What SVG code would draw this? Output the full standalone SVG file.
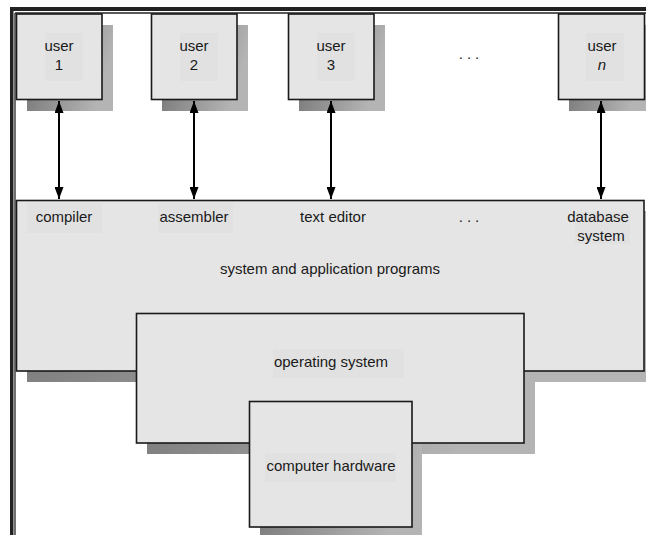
<svg xmlns="http://www.w3.org/2000/svg" width="646" height="535" viewBox="0 0 646 535">
<style>
.box{fill:#e5e5e5;stroke:#1a1a1a;stroke-width:1.6}
.sh{fill:url(#shg)}
.lbl{fill:#e1e1e1}
text{font-family:"Liberation Sans",Arial,sans-serif;font-size:15px;fill:#1a1a1a;text-anchor:middle}
.conn{stroke:#000;stroke-width:2;marker-start:url(#ah);marker-end:url(#ah)}
</style>
<defs>
<linearGradient id="shg" x1="0" y1="0" x2="1" y2="0.3">
<stop offset="0" stop-color="#6e6e6e"/>
<stop offset="1" stop-color="#b4b4b4"/>
</linearGradient>
<marker id="ah" viewBox="0 0 12 9" refX="12" refY="4.5" markerWidth="6" markerHeight="4.5" orient="auto-start-reverse" markerUnits="strokeWidth">
<path d="M0,0 L12,4.5 L0,9 z" fill="#000"/>
</marker>
</defs>
<rect width="646" height="535" fill="#fff"/>
<!-- frame -->
<rect x="10" y="7" width="636" height="4" fill="#222"/>
<rect x="10" y="7" width="3.5" height="528" fill="#222"/>
<line x1="15" y1="13" x2="646" y2="13" stroke="#222" stroke-width="1.3"/>
<line x1="15" y1="13" x2="15" y2="535" stroke="#222" stroke-width="1.3"/>
<!-- shadows -->
<rect class="sh" x="27" y="211" width="619" height="171"/>
<rect class="sh" x="147" y="324" width="388" height="130"/>
<rect class="sh" x="260" y="412" width="162" height="123"/>
<rect class="sh" x="27" y="25" width="86" height="86"/>
<rect class="sh" x="162" y="25" width="86" height="86"/>
<rect class="sh" x="299" y="25" width="86" height="86"/>
<rect class="sh" x="569" y="25" width="77" height="86"/>
<g id="system">
<rect class="box" x="16.5" y="200.5" width="627.5" height="170.5"/>
<rect class="lbl" x="27" y="203" width="75" height="30"/>
<rect class="lbl" x="158" y="203" width="75" height="30"/>
<rect class="lbl" x="575" y="212" width="55" height="32"/>
<text x="64" y="222">compiler</text>
<text x="194" y="222">assembler</text>
<text x="333" y="222">text editor</text>
<text x="471" y="222" letter-spacing="4">...</text>
<text x="598" y="222">database</text>
<text x="601" y="241">system</text>
<text x="330" y="274">system and application programs</text>
</g>
<g id="os">
<rect class="box" x="136.5" y="313.5" width="387.5" height="129.5"/>
<rect class="lbl" x="273" y="349" width="131" height="29"/>
<text x="331" y="367">operating system</text>
</g>
<g id="hardware">
<rect class="box" x="249.5" y="401.5" width="162.5" height="125.5"/>
<rect class="lbl" x="265" y="453" width="131" height="29"/>
<text x="331" y="471">computer hardware</text>
</g>
<g id="user1">
<rect class="box" x="16.5" y="14" width="85.5" height="85.5"/>
<rect class="lbl" x="45" y="33" width="38" height="48"/>
<text x="59" y="51">user</text>
<text x="59" y="70">1</text>
</g>
<g id="user2">
<rect class="box" x="151.5" y="14" width="85.5" height="85.5"/>
<rect class="lbl" x="180" y="33" width="38" height="48"/>
<text x="194" y="51">user</text>
<text x="194" y="70">2</text>
</g>
<g id="user3">
<rect class="box" x="288.5" y="14" width="85.5" height="85.5"/>
<rect class="lbl" x="317" y="33" width="38" height="48"/>
<text x="331" y="51">user</text>
<text x="331" y="70">3</text>
</g>
<text x="471" y="59" letter-spacing="4">...</text>
<g id="usern">
<rect class="box" x="558.5" y="14" width="86" height="85.5"/>
<rect class="lbl" x="586" y="33" width="38" height="48"/>
<text x="602" y="51">user</text>
<text x="602" y="70" font-style="italic">n</text>
</g>
<g id="connectors">
<line class="conn" x1="59" y1="101" x2="59" y2="199"/>
<line class="conn" x1="194" y1="101" x2="194" y2="199"/>
<line class="conn" x1="331" y1="101" x2="331" y2="199"/>
<line class="conn" x1="601" y1="101" x2="601" y2="199"/>
</g>
</svg>
